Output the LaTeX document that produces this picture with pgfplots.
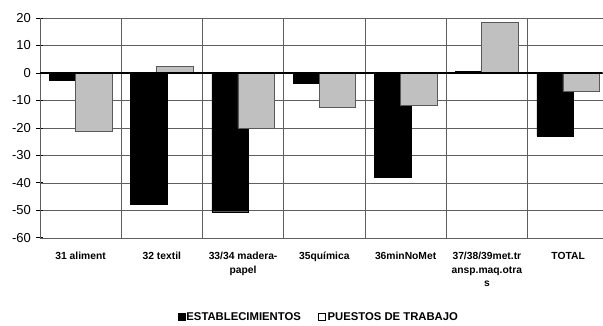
\documentclass[border=0pt]{standalone}
\usepackage{pgfplots}
\pgfplotsset{compat=1.18}
\usepackage{fontspec}
\setmainfont{Liberation Sans}
\definecolor{barGray}{RGB}{192,192,192}
\definecolor{gridGray}{RGB}{95,95,95}
\begin{document}
\begin{tikzpicture}
\begin{axis}[
  scale only axis, width=563pt, height=220pt,
  xmin=-0.5, xmax=6.425, ymin=-60, ymax=20,
  axis lines*=left,
  axis line style={gridGray, line width=0.7pt},
  ytick={-60,-50,...,20},
  xtick={0,...,6},
  xticklabels={31 aliment, 32 textil, {33/34 madera-\\papel}, 35química, 36minNoMet, {37/38/39met.tr\\ansp.maq.otra\\s}, TOTAL},
  xticklabel style={align=center, font=\fontsize{10.3}{13.5}\selectfont\bfseries, yshift=-4pt},
  yticklabel style={font=\fontsize{13}{15}\selectfont, xshift=-2pt},
  /pgf/number format/assume math mode=true,
  xtick style={draw=none},
  ytick style={black, line width=0.8pt},
  tick align=center, major tick length=7pt,
  minor xtick={0.5,1.5,...,5.5},
  minor tick length=0pt,
  xminorgrids, ymajorgrids,
  grid style={gridGray, line width=0.6pt},
  minor grid style={gridGray, line width=0.6pt},
  ybar, bar width=0.45,
  legend columns=2,
  legend style={at={(axis description cs:0.495,-0.36)}, anchor=center, draw=none,
    font=\fontsize{11.3}{13}\selectfont\bfseries,
    /tikz/every even column/.append style={column sep=16pt},
    nodes={inner xsep=1.5pt}},
  legend image code/.code={\draw[#1] (0pt,-3.5pt) rectangle (7pt,3.5pt);},
]
\addplot[fill=black, draw=black, bar shift=-0.16] coordinates {
  (0,-2.5) (1,-47.6) (2,-50.5) (3,-3.8) (4,-38) (5,0.5) (6,-22.9)};
\addplot[fill=barGray, draw=black!65, bar shift=0.16, forget plot] coordinates {
  (0,-21.3) (1,2.5) (2,-20) (3,-12.5) (4,-11.8) (5,18.5) (6,-6.5)};
\addlegendimage{fill=white, draw=black, line width=0.8pt}
\legend{ESTABLECIMIENTOS, PUESTOS DE TRABAJO}
\draw[black, line width=1.3pt] (axis cs:-0.5,0) -- (axis cs:6.425,0);
\end{axis}
\path ([xshift=-40pt,yshift=18pt]current axis.north west) -- ([yshift=18pt]current axis.north east);
\end{tikzpicture}
\end{document}
